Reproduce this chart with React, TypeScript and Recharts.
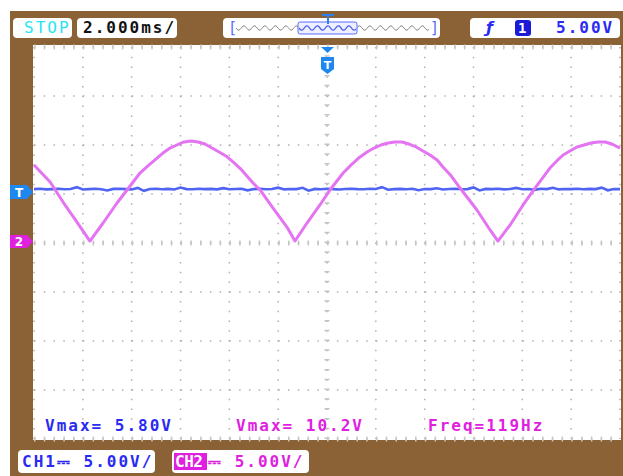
import React from 'react';
import { LineChart, Line, XAxis, YAxis, CartesianGrid, ReferenceLine } from 'recharts';

// Time axis: 12 divisions x 2 ms/div
const timeTicks = [0, 2, 4, 6, 8, 10, 12, 14, 16, 18, 20, 22, 24];
// Vertical axis: 8 divisions x 5 V/div (screen volts, ground at centre)
const voltTicks = [-20, -15, -10, -5, 0, 5, 10, 15, 20];

// CH2 (magenta) - full-wave rectified trace
const ch2Time = [
  0.0, 0.66, 1.19, 1.76, 2.29, 2.83, 3.4, 3.81, 4.34, 4.7, 5.04, 5.28, 5.57, 5.85, 6.14, 6.43, 6.72,
  7.0, 7.29, 7.58, 7.86, 8.15, 8.45, 8.97, 9.26, 9.79, 10.36, 10.69, 11.18, 11.71, 12.12, 12.66,
  13.0, 13.35, 13.64, 13.93, 14.21, 14.5, 14.79, 15.07, 15.36, 15.65, 15.93, 16.22, 16.51, 16.75,
  17.1, 17.45, 18.14, 18.68, 19.0, 19.5, 20.03, 20.52, 21.13, 21.4, 21.67, 21.95, 22.24, 22.53,
  22.81, 23.1, 23.39, 23.67, 24.0,
];
const ch2Volts = [
  7.96, 6.22, 4.18, 2.14, 0.2, 2.04, 4.08, 5.41, 7.14, 7.95, 8.67, 9.18, 9.69, 10.0, 10.31, 10.41, 10.31,
  10.1, 9.69, 9.29, 8.88, 8.27, 7.6, 6.12, 5.41, 3.57, 1.63, 0.2, 2.04, 3.88, 5.41, 7.14,
  8.0, 8.78, 9.29, 9.69, 10.0, 10.2, 10.31, 10.31, 10.1, 9.8, 9.39, 8.98, 8.47, 7.76,
  6.8, 5.61, 3.37, 1.33, 0.2, 1.84, 3.88, 5.61, 7.65, 8.35, 8.98, 9.39, 9.8, 10.0,
  10.2, 10.31, 10.31, 10.1, 9.69,
];

// CH1 (blue) - DC level with noise, one reading every 0.25 ms
const ch1Step = 0.25;
const ch1Volts = [
  5.5, 5.53, 5.47, 5.5, 5.54, 5.48, 5.51, 5.7, 5.46, 5.5,
  5.53, 5.49, 5.36, 5.52, 5.54, 5.5, 5.47, 5.62, 5.32, 5.51,
  5.53, 5.49, 5.52, 5.46, 5.66, 5.5, 5.48, 5.53, 5.5, 5.52,
  5.47, 5.6, 5.49, 5.51, 5.54, 5.37, 5.5, 5.53, 5.48, 5.51,
  5.65, 5.47, 5.51, 5.5, 5.63, 5.34, 5.52, 5.49, 5.53, 5.5,
  5.46, 5.51, 5.54, 5.5, 5.48, 5.53, 5.51, 5.7, 5.44, 5.5,
  5.52, 5.49, 5.54, 5.38, 5.51, 5.5, 5.58, 5.46, 5.51, 5.53,
  5.48, 5.5, 5.67, 5.36, 5.52, 5.5, 5.53, 5.47, 5.51, 5.62,
  5.49, 5.51, 5.42, 5.53, 5.5, 5.63, 5.47, 5.51, 5.5, 5.54,
  5.48, 5.52, 5.5, 5.65, 5.38, 5.51, 5.5,
];

const ch2Data = ch2Time.map((t, i) => ({ t, v: ch2Volts[i] }));
const ch1Data = ch1Volts.map((v, i) => ({ t: i * ch1Step, v }));

const BROWN = '#8a6236';
const BLUE_TXT = '#2a2af2';
const MAG_TXT = '#e020e0';
const MONO = "'DejaVu Sans Mono', 'Liberation Mono', monospace";

const txt = (color: string, extra: React.CSSProperties = {}): React.CSSProperties => ({
  position: 'absolute',
  fontFamily: MONO,
  fontSize: 16,
  fontWeight: 'bold',
  letterSpacing: '2px',
  color,
  whiteSpace: 'nowrap',
  lineHeight: '16px',
  ...extra,
});

const box = (left: number, top: number, width: number, height: number): React.CSSProperties => ({
  position: 'absolute',
  left,
  top,
  width,
  height,
  background: '#fff',
  borderRadius: 4,
});

function squiggle(x0: number, x1: number, y: number, amp: number, period: number) {
  let d = `M${x0},${y}`;
  for (let x = x0; x <= x1; x += 1) {
    d += ` L${x},${(y + amp * Math.sin(((x - x0) / period) * Math.PI * 2)).toFixed(2)}`;
  }
  return d;
}

export default function App() {
  return (
    <div style={{ position: 'absolute', left: 0, top: 0, width: 623, height: 476, background: '#fff', overflow: 'hidden' }}>
      <div style={{ position: 'absolute', left: 10, top: 11, width: 613, height: 465, background: BROWN }} />
      <div style={{ position: 'absolute', left: 33, top: 45, width: 588, height: 395, background: '#fff' }} />

      <div style={{ position: 'absolute', left: 0, top: 0 }}>
        <LineChart width={623} height={476} data={ch2Data} margin={{ top: 47, right: 3, bottom: 37, left: 34 }}>
          <CartesianGrid
            fill="#fff"
            stroke="#b0b0b0"
            strokeWidth={1.5}
            strokeDasharray="1.5 8.27"
          />
          <XAxis dataKey="t" type="number" domain={[0, 24]} ticks={timeTicks} hide />
          <YAxis type="number" domain={[-20, 20]} ticks={voltTicks} hide />
          <ReferenceLine x={12} stroke="#c4c4c4" strokeWidth={5} strokeDasharray="1.5 8.3" />
          <ReferenceLine y={0} stroke="#c4c4c4" strokeWidth={5} strokeDasharray="1.5 8.27" />
          <ReferenceLine y={20} stroke="#c8c8c8" strokeWidth={5} strokeDasharray="1.5 8.27" />
          <ReferenceLine y={-20} stroke="#c8c8c8" strokeWidth={5} strokeDasharray="1.5 8.27" />
          <Line
            data={ch1Data}
            dataKey="v"
            type="linear"
            stroke="#5064f4"
            strokeWidth={2.6}
            dot={false}
            isAnimationActive={false}
          />
          <Line
            data={ch2Data}
            dataKey="v"
            type="linear"
            stroke="#e474f2"
            strokeWidth={3}
            strokeLinejoin="round"
            dot={false}
            isAnimationActive={false}
          />
        </LineChart>
      </div>

      {/* top status bar */}
      <div style={box(13, 18, 59, 20)}>
        <div style={txt('#28e4f2', { left: 11, top: 2, fontWeight: 'normal' })}>STOP</div>
      </div>
      <div style={box(77, 18, 100, 20)}>
        <div style={txt('#111', { left: 6, top: 2 })}>2.000ms/</div>
      </div>
      <div style={box(223, 18, 217, 20)} />
      <div style={box(470, 18, 150, 20)}>
        <div style={txt(BLUE_TXT, { left: 16, top: 2, fontFamily: "'DejaVu Sans', sans-serif", fontStyle: 'italic' })}>ƒ</div>
        <div style={{ position: 'absolute', left: 45, top: 2, width: 16, height: 16, background: '#1a1ad8', borderRadius: 3 }}>
          <div style={txt('#fff', { left: 3, top: 0, fontSize: 14, letterSpacing: 0 })}>1</div>
        </div>
        <div style={txt(BLUE_TXT, { left: 86, top: 2 })}>5.00V</div>
      </div>

      {/* measurements */}
      <div style={txt(BLUE_TXT, { left: 45, top: 418 })}>Vmax= 5.80V</div>
      <div style={txt(MAG_TXT, { left: 236, top: 418 })}>Vmax= 10.2V</div>
      <div style={txt(MAG_TXT, { left: 428, top: 418 })}>Freq=119Hz</div>

      {/* bottom channel bar */}
      <div style={box(18, 450, 137, 23)}>
        <div style={txt(BLUE_TXT, { left: 4, top: 4 })}>CH1⎓ 5.00V/</div>
      </div>
      <div style={box(172, 450, 137, 23)}>
        <div style={{ position: 'absolute', left: 2, top: 3, width: 33, height: 17, background: MAG_TXT }} />
        <div style={txt('#fff', { left: 3, top: 4, letterSpacing: '-0.5px' })}>CH2</div>
        <div style={txt(MAG_TXT, { left: 36, top: 4 })}>⎓ 5.00V/</div>
      </div>

      {/* markers and memory bar */}
      <svg width={623} height={476} style={{ position: 'absolute', left: 0, top: 0 }}>
        <text x={228} y={33} fontFamily={MONO} fontSize={15} fill="#5a6cff">[</text>
        <text x={430} y={33} fontFamily={MONO} fontSize={15} fill="#5a6cff">]</text>
        <path d={squiggle(236, 429, 28, 2.2, 10.5)} fill="none" stroke="#888" strokeWidth={1} />
        <rect x={298} y={22} width={59} height={12} rx={2} fill="#eef0ff" stroke="#5a6cff" strokeWidth={1} />
        <path d={squiggle(299, 356, 28, 2.2, 10.5)} fill="none" stroke="#4a5cf0" strokeWidth={1.2} />
        <path d="M322,15 L334,15 M328,15 L328,24" stroke="#2f7ff0" strokeWidth={2} />
        <polygon points="321,47 334,47 327.5,53" fill="#1e88f0" />
        <polygon points="321,57 334,57 334,69 327.5,74 321,69" fill="#1e88f0" />
        <text x={327.5} y={69} textAnchor="middle" fontFamily="'DejaVu Sans', sans-serif" fontWeight="bold" fontSize={11} fill="#fff">T</text>
        <polygon points="10,185 27,185 33,192 27,199 10,199" fill="#1e88f0" />
        <text x={19} y={196.5} textAnchor="middle" fontFamily="'DejaVu Sans', sans-serif" fontWeight="bold" fontSize={12} fill="#fff">T</text>
        <polygon points="10,235 27,235 33,241.5 27,248 10,248" fill="#e020e0" />
        <text x={19} y={246} textAnchor="middle" fontFamily="'DejaVu Sans', sans-serif" fontWeight="bold" fontSize={12} fill="#fff">2</text>
      </svg>
    </div>
  );
}
